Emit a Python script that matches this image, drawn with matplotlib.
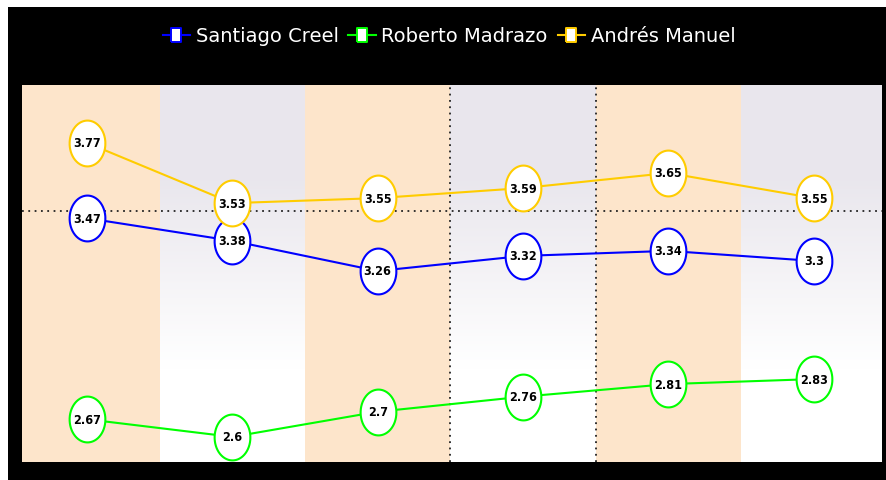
import numpy as np
import matplotlib.pyplot as plt
from matplotlib.path import Path
from matplotlib.patches import Rectangle
from matplotlib.lines import Line2D

names = ['Santiago Creel', 'Roberto Madrazo', 'Andrés Manuel']
colors = ['#0000FF', '#00FF00', '#FFCC00']
creel = [3.47, 3.38, 3.26, 3.32, 3.34, 3.3]
madrazo = [2.67, 2.6, 2.7, 2.76, 2.81, 2.83]
amlo = [3.77, 3.53, 3.55, 3.59, 3.65, 3.55]
series = [creel, madrazo, amlo]

x = np.arange(len(creel))

fig = plt.figure(figsize=(8.86, 4.81), dpi=100)
fig.patch.set_facecolor('white')
# black frame with thin white strip on top and left
fig.patches.append(Rectangle((8/886, 0), 1, 1 - 8/481, transform=fig.transFigure,
                             facecolor='black', edgecolor='none', zorder=-10))

ax = fig.add_axes([22/886, 18/481, 860/886, 377/481])
xlim = (-0.447, 5.47)

# alternating column backgrounds
grad = np.ones((200, 1, 3))
t = np.linspace(0, 1, 200)[:, None]
top = np.array([0.915, 0.905, 0.93])
fade = np.clip((t - 0.25) / 0.5, 0, 1)
grad[:, 0, :] = top + (1 - top) * fade
for i in x:
    if i % 2 == 0:
        ax.axvspan(i - 0.5, i + 0.5, color='#FDE5CB', lw=0, zorder=0)
    else:
        ax.imshow(grad, extent=(i - 0.5, i + 0.5, 2.5, 4.0), aspect='auto',
                  zorder=0, interpolation='bilinear')
ax.set_xlim(*xlim)
ax.set_ylim(2.5, 4.0)

ax.axhline(3.5, color='#222222', ls=(0, (1, 2.5)), lw=1.3, zorder=1)
for xv in [2.5, 3.5]:
    ax.axvline(xv, color='#222222', ls=(0, (1, 2.5)), lw=1.3, zorder=1)

# tall ellipse marker
th = np.linspace(0, 2 * np.pi, 60)
ell = Path(np.column_stack([0.78 * np.cos(th), np.sin(th)]))

for vals, c, n in zip(series, colors, names):
    ax.plot(x, vals, color=c, lw=1.5, zorder=2)
    ax.plot(x, vals, ls='none', marker=ell, ms=33, mfc='white', mec=c, mew=1.5, zorder=3)
    for xi, v in zip(x, vals):
        ax.text(xi, v, f'{v:g}', ha='center', va='center', fontsize=9,
                fontweight='bold', fontstretch='condensed', color='black', zorder=4)

for s in ax.spines.values():
    s.set_visible(False)
ax.set_xticks([])
ax.set_yticks([])

rect = Path([(-0.7, -1), (0.7, -1), (0.7, 1), (-0.7, 1), (-0.7, -1)])
handles = [Line2D([], [], color=c, lw=1.5, marker=rect, ms=10, mfc='white', mec=c, mew=1.4)
           for c in colors]
leg = fig.legend(handles, names, loc='center', bbox_to_anchor=(449/886, 1 - 37/481),
                 ncol=3, frameon=False, fontsize=14, labelcolor='white',
                 handlelength=1.4, handletextpad=0.3, columnspacing=0.5)

fig.savefig('out.png', dpi=100, facecolor=fig.get_facecolor())
